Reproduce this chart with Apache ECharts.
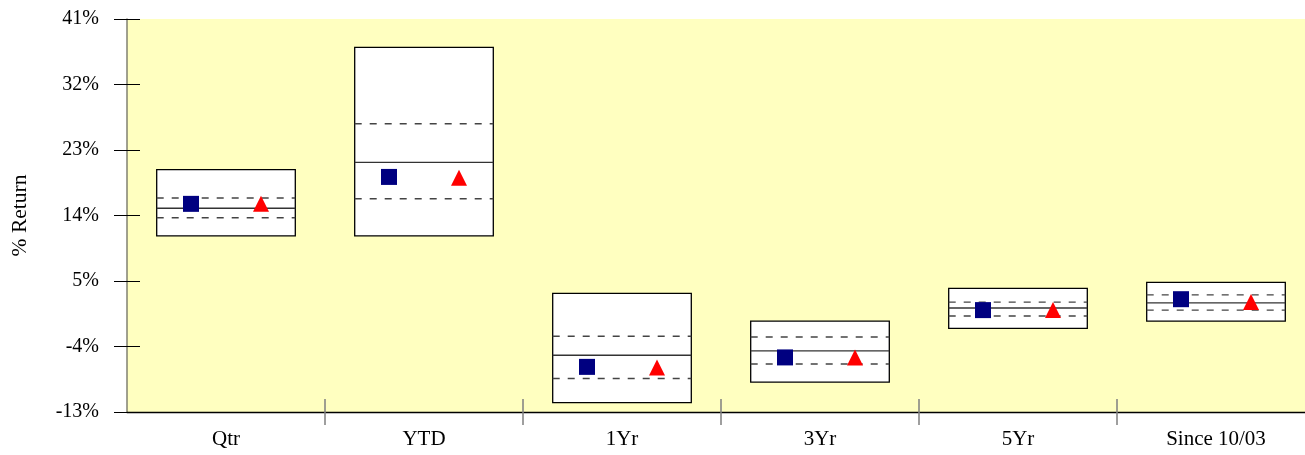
<!DOCTYPE html>
<html>
<head>
<meta charset="utf-8">
<script src="https://cdn.jsdelivr.net/npm/echarts@6/dist/echarts.min.js"></script>
<style>
html,body{margin:0;padding:0;background:#fff;}
#chart{width:1305px;height:455px;}
</style>
</head>
<body>
<div id="chart"></div>
<script>
var categories = ['Qtr', 'YTD', '1Yr', '3Yr', '5Yr', 'Since 10/03'];
var boxTop     = [20.3, 37.1, 3.3, -0.5, 4.0, 4.8];
var upperDash  = [16.4, 26.6, -2.6, -2.7, 2.1, 3.1];
var medianVals = [15.0, 21.3, -5.2, -4.6, 1.3, 2.0];
var lowerDash  = [13.7, 16.3, -8.4, -6.4, 0.2, 1.0];
var boxBottom  = [11.2, 11.2, -11.7, -8.9, -1.5, -0.5];
var portfolio  = [15.6, 19.3, -6.8, -5.5, 1.0, 2.5];
var benchmark  = [15.6, 19.2, -6.9, -5.5, 1.0, 2.1];
var yTicks = { min: -13, max: 41, interval: 9 };

var boxData = categories.map(function (c, i) {
  return [i, boxTop[i], upperDash[i], medianVals[i], lowerDash[i], boxBottom[i]];
});

var chart = echarts.init(document.getElementById('chart'));
var font = 'Liberation Serif, Times New Roman, serif';

chart.setOption({
  animation: false,
  grid: {
    left: 127, top: 19, width: 1188, bottom: 43,
    containLabel: false, outerBoundsMode: 'none',
    show: true, backgroundColor: '#FFFFC0', borderWidth: 0
  },
  xAxis: [{
    type: 'category',
    data: categories,
    boundaryGap: true,
    axisLine: { show: true, onZero: false, lineStyle: { color: '#000', width: 1.3 } },
    axisTick: { show: true, length: 13, interval: function (idx) { return idx !== 0; },
      lineStyle: { color: '#808080', width: 1.5 } },
    axisLabel: { fontFamily: font, fontSize: 21, color: '#000', margin: 17 },
    splitLine: { show: false }
  }, {
    type: 'category',
    data: categories,
    position: 'bottom',
    boundaryGap: true,
    axisLine: { show: false, onZero: false },
    axisTick: { show: true, inside: true, length: 13, interval: function (idx) { return idx !== 0; },
      lineStyle: { color: '#808080', width: 1.5 } },
    axisLabel: { show: false },
    splitLine: { show: false }
  }],
  yAxis: [{
    type: 'value',
    min: yTicks.min, max: yTicks.max, interval: yTicks.interval,
    name: '% Return',
    nameLocation: 'middle',
    nameGap: 96,
    nameRotate: 90,
    nameTextStyle: { fontFamily: font, fontSize: 21.5, color: '#000' },
    axisLine: { show: true, onZero: false, lineStyle: { color: '#808070', width: 1.5 } },
    axisTick: { show: true, length: 13, lineStyle: { color: '#000', width: 1 } },
    axisLabel: { fontFamily: font, fontSize: 20, color: '#000', margin: 28,
      formatter: function (v) { return v + '%'; } },
    splitLine: { show: false }
  }, {
    type: 'value',
    position: 'left',
    min: yTicks.min, max: yTicks.max, interval: yTicks.interval,
    axisLine: { show: false, onZero: false },
    axisTick: { show: true, inside: true, length: 13, lineStyle: { color: '#000', width: 1 } },
    axisLabel: { show: false },
    splitLine: { show: false }
  }],
  series: [{
    type: 'custom',
    data: boxData,
    z: 2,
    renderItem: function (params, api) {
      var x = api.value(0);
      var bw = api.size([1, 0])[0] * 0.70;
      var pTop = api.coord([x, api.value(1)]);
      var pU = api.coord([x, api.value(2)]);
      var pM = api.coord([x, api.value(3)]);
      var pL = api.coord([x, api.value(4)]);
      var pB = api.coord([x, api.value(5)]);
      var x0 = pTop[0] - bw / 2, x1 = pTop[0] + bw / 2;
      return {
        type: 'group',
        children: [{
          type: 'rect',
          shape: { x: x0, y: pTop[1], width: bw, height: pB[1] - pTop[1] },
          style: { fill: '#fff', stroke: '#000', lineWidth: 1.3 }
        }, {
          type: 'line',
          shape: { x1: x0, y1: pU[1], x2: x1, y2: pU[1] },
          style: { stroke: '#444', lineWidth: 1.4, lineDash: [7, 8] }
        }, {
          type: 'line',
          shape: { x1: x0, y1: pM[1], x2: x1, y2: pM[1] },
          style: { stroke: '#333', lineWidth: 1.4 }
        }, {
          type: 'line',
          shape: { x1: x0, y1: pL[1], x2: x1, y2: pL[1] },
          style: { stroke: '#444', lineWidth: 1.4, lineDash: [7, 8] }
        }]
      };
    }
  }, {
    type: 'scatter',
    data: portfolio,
    symbol: 'rect',
    symbolSize: 16,
    symbolOffset: [-35, 0],
    itemStyle: { color: '#000080', opacity: 1 },
    z: 5
  }, {
    type: 'scatter',
    data: benchmark,
    symbol: 'triangle',
    symbolSize: [16, 16],
    symbolOffset: [35, 0],
    itemStyle: { color: '#ff0000', opacity: 1 },
    z: 5
  }]
});
</script>
</body>
</html>
